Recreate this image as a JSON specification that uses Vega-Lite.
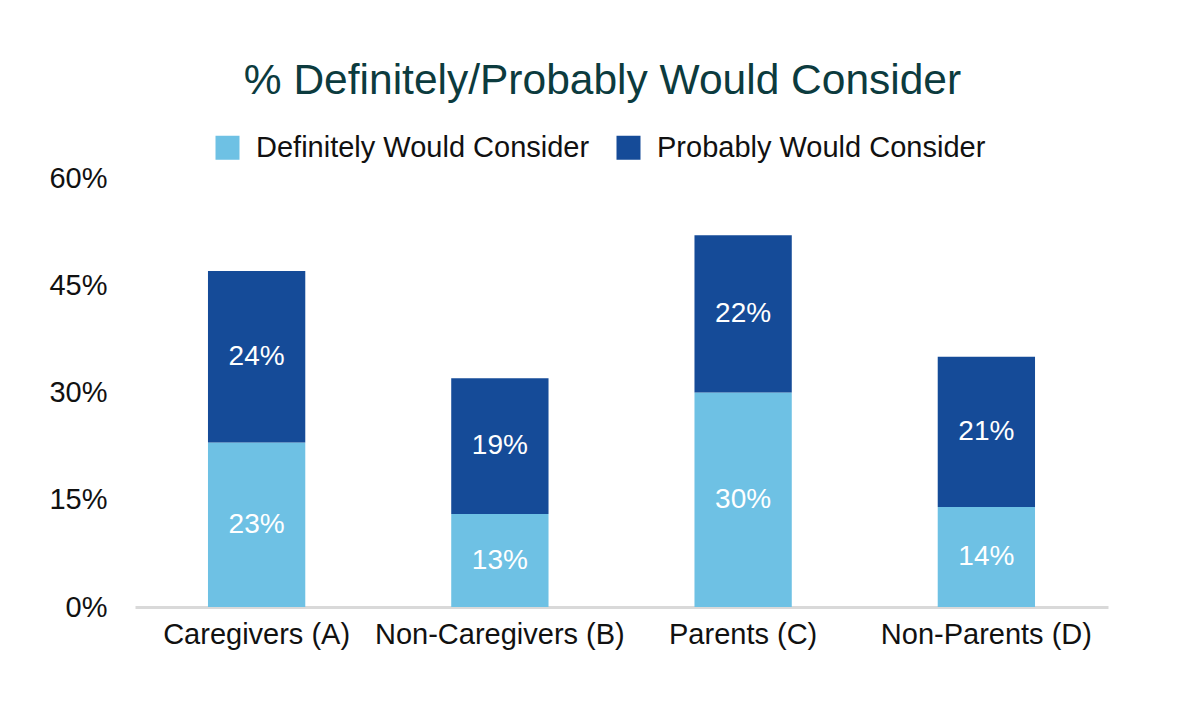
{
  "$schema": "https://vega.github.io/schema/vega-lite/v6.json",
  "autosize": {"type": "none"},
  "width": 973,
  "height": 429,
  "padding": {"left": 135, "top": 178, "right": 85, "bottom": 114},
  "background": "#ffffff",
  "config": {
    "view": {"stroke": null},
    "font": "Liberation Sans"
  },
  "title": {
    "text": "% Definitely/Probably Would Consider",
    "fontSize": 42.5,
    "fontWeight": "normal",
    "color": "#0c3b3e",
    "anchor": "middle",
    "dx": -19,
    "offset": 31
  },
  "data": {
    "values": [
      {"group": "Caregivers (A)", "type": "Definitely Would Consider", "value": 0.23},
      {"group": "Caregivers (A)", "type": "Probably Would Consider", "value": 0.24},
      {"group": "Non-Caregivers (B)", "type": "Definitely Would Consider", "value": 0.13},
      {"group": "Non-Caregivers (B)", "type": "Probably Would Consider", "value": 0.19},
      {"group": "Parents (C)", "type": "Definitely Would Consider", "value": 0.30},
      {"group": "Parents (C)", "type": "Probably Would Consider", "value": 0.22},
      {"group": "Non-Parents (D)", "type": "Definitely Would Consider", "value": 0.14},
      {"group": "Non-Parents (D)", "type": "Probably Would Consider", "value": 0.21}
    ]
  },
  "encoding": {
    "x": {
      "field": "group",
      "type": "nominal",
      "sort": null,
      "scale": {"paddingInner": 0.6, "paddingOuter": 0.3},
      "axis": {
        "title": null,
        "labelAngle": 0,
        "labelFontSize": 29,
        "labelColor": "#111111",
        "labelPadding": 13,
        "labelLimit": 400,
        "ticks": false,
        "domainColor": "#d9d9d9",
        "domainWidth": 3
      }
    },
    "y": {
      "field": "value",
      "type": "quantitative",
      "stack": "zero",
      "scale": {"domain": [0, 0.6]},
      "axis": {
        "title": null,
        "values": [0, 0.15, 0.3, 0.45, 0.6],
        "format": ".0%",
        "labelFontSize": 29,
        "labelColor": "#111111",
        "labelPadding": 28,
        "ticks": false,
        "domain": false,
        "grid": false
      }
    },
    "order": {"field": "type", "sort": "ascending"}
  },
  "layer": [
    {
      "mark": {"type": "bar"},
      "encoding": {
        "color": {
          "field": "type",
          "type": "nominal",
          "scale": {
            "domain": ["Definitely Would Consider", "Probably Would Consider"],
            "range": ["#6ec1e4", "#154b98"]
          },
          "legend": {
            "title": null,
            "orient": "none",
            "direction": "horizontal",
            "legendX": 78,
            "legendY": -45,
            "symbolType": "square",
            "symbolSize": 576,
            "symbolStrokeWidth": 0,
            "labelFontSize": 29,
            "labelColor": "#111111",
            "labelOffset": 14,
            "columnPadding": 24,
            "labelLimit": 500
          }
        }
      }
    },
    {
      "mark": {"type": "text", "color": "#ffffff", "fontSize": 28, "baseline": "middle"},
      "encoding": {
        "y": {"field": "value", "type": "quantitative", "stack": "zero", "bandPosition": 0.5},
        "detail": {"field": "type", "type": "nominal"},
        "text": {"field": "value", "type": "quantitative", "format": ".0%"}
      }
    }
  ]
}
